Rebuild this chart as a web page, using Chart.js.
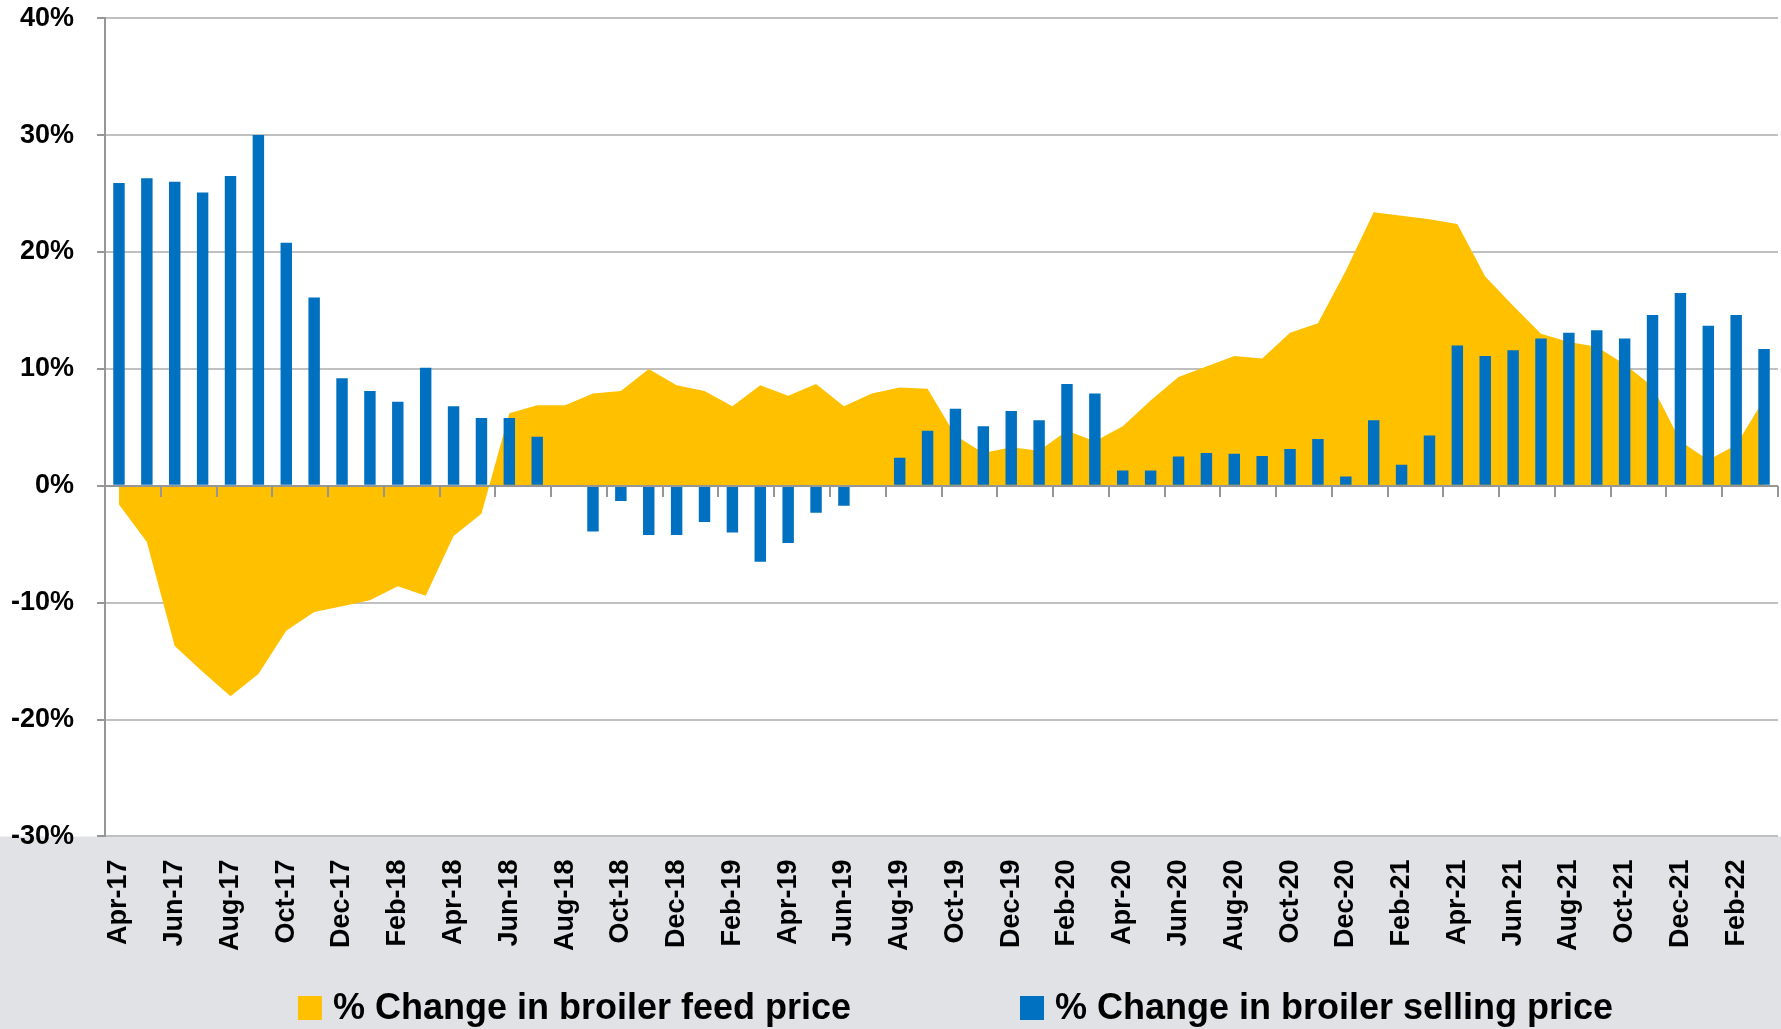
<!DOCTYPE html>
<html>
<head>
<meta charset="utf-8">
<script src="https://cdn.jsdelivr.net/npm/chart.js@4.4.1/dist/chart.umd.min.js"></script>
<style>
  body { margin: 0; background: #ffffff; }
  #wrap { width: 1781px; height: 1029px; }
</style>
</head>
<body>
<div id="wrap"><canvas id="chart"></canvas></div>
<script>
// Month labels, Apr-17 .. Mar-22
const months = [
    'Apr-17', 'May-17', 'Jun-17', 'Jul-17', 'Aug-17', 'Sep-17', 'Oct-17', 'Nov-17', 'Dec-17',
    'Jan-18', 'Feb-18', 'Mar-18', 'Apr-18', 'May-18', 'Jun-18', 'Jul-18', 'Aug-18', 'Sep-18',
    'Oct-18', 'Nov-18', 'Dec-18', 'Jan-19', 'Feb-19', 'Mar-19', 'Apr-19', 'May-19', 'Jun-19',
    'Jul-19', 'Aug-19', 'Sep-19', 'Oct-19', 'Nov-19', 'Dec-19', 'Jan-20', 'Feb-20', 'Mar-20',
    'Apr-20', 'May-20', 'Jun-20', 'Jul-20', 'Aug-20', 'Sep-20', 'Oct-20', 'Nov-20', 'Dec-20',
    'Jan-21', 'Feb-21', 'Mar-21', 'Apr-21', 'May-21', 'Jun-21', 'Jul-21', 'Aug-21', 'Sep-21',
    'Oct-21', 'Nov-21', 'Dec-21', 'Jan-22', 'Feb-22', 'Mar-22'
];

// % change in broiler feed price (area)
const feedChange = [
    -1.6, -4.8, -13.7, -15.9, -18.0, -16.1, -12.4, -10.8, -10.3,
    -9.8, -8.6, -9.4, -4.3, -2.4, 6.2, 6.9, 6.9, 7.9,
    8.1, 10.0, 8.6, 8.1, 6.8, 8.6, 7.7, 8.7, 6.8,
    7.9, 8.4, 8.3, 4.3, 2.8, 3.3, 3.0, 4.7, 3.8,
    5.1, 7.3, 9.3, 10.2, 11.1, 10.9, 13.1, 13.9, 18.4,
    23.4, 23.1, 22.8, 22.4, 17.9, 15.4, 13.0, 12.3, 11.9,
    10.4, 8.5, 3.8, 2.2, 3.5, 7.4
];

// % change in broiler selling price (bars)
const sellingChange = [
    25.9, 26.3, 26.0, 25.1, 26.5, 30.0, 20.8, 16.1, 9.2,
    8.1, 7.2, 10.1, 6.8, 5.8, 5.8, 4.2, 0, -3.9,
    -1.3, -4.2, -4.2, -3.1, -4.0, -6.5, -4.9, -2.3, -1.7,
    0.1, 2.4, 4.7, 6.6, 5.1, 6.4, 5.6, 8.7, 7.9,
    1.3, 1.3, 2.5, 2.8, 2.75, 2.55, 3.15, 4.0, 0.8,
    5.6, 1.8, 4.3, 12.0, 11.1, 11.6, 12.6, 13.1, 13.3,
    12.6, 14.6, 16.5, 13.7, 14.6, 11.7
];

const yTicks = [-30, -20, -10, 0, 10, 20, 30, 40];

const FONT = "'Liberation Sans', Arial, sans-serif";
const AXIS_GREY = '#969696';

// white plot, grey band under the axis
const background = {
    id: 'background',
    beforeDraw(chart) {
        const { ctx, chartArea, width, height } = chart;
        ctx.save();
        ctx.fillStyle = '#ffffff';
        ctx.fillRect(0, 0, width, height);
        ctx.fillStyle = '#e1e2e6';
        ctx.fillRect(0, chartArea.bottom, width, height - chartArea.bottom);
        ctx.restore();
    }
};

// horizontal axis line at 0% with a tick every two months, plus short y tick marks
const axisMarks = {
    id: 'axisMarks',
    afterDatasetsDraw(chart) {
        const { ctx, chartArea, scales } = chart;
        const y0 = Math.round(scales.y.getPixelForValue(0));
        ctx.save();
        ctx.strokeStyle = AXIS_GREY;
        ctx.lineWidth = 2;
        ctx.beginPath();
        ctx.moveTo(chartArea.left, y0);
        ctx.lineTo(chartArea.right, y0);
        for (let i = 0; i <= months.length; i += 2) {
            const px = Math.round(scales.x.getPixelForValue(i - 0.5));
            ctx.moveTo(px, y0);
            ctx.lineTo(px, y0 + 11);
        }
        yTicks.forEach(v => {
            const py = Math.round(scales.y.getPixelForValue(v));
            ctx.moveTo(chartArea.left - 8, py);
            ctx.lineTo(chartArea.left, py);
        });
        ctx.stroke();
        ctx.restore();
    }
};

// legend drawn by hand so the spacing can follow the original
const legendRow = {
    id: 'legendRow',
    afterDraw(chart) {
        const { ctx, chartArea } = chart;
        const box = 24, gap = 11, between = 169;
        ctx.save();
        ctx.font = 'bold 36px ' + FONT;
        ctx.textBaseline = 'middle';
        const items = chart.data.datasets.map(d => ({ text: d.label, color: d.backgroundColor, w: ctx.measureText(d.label).width }));
        const total = items.reduce((s, it) => s + box + gap + it.w, 0) + between * (items.length - 1);
        let x = (chartArea.left + chartArea.right) / 2 + 14 - total / 2;
        const cy = chart.height - 21;
        items.forEach(it => {
            ctx.fillStyle = it.color;
            ctx.fillRect(x, cy - box / 2, box, box);
            ctx.fillStyle = '#000000';
            ctx.fillText(it.text, x + box + gap, cy + 1);
            x += box + gap + it.w + between;
        });
        ctx.restore();
    }
};

const ctx = document.getElementById('chart').getContext('2d');
new Chart(ctx, {
    data: {
        labels: months,
        datasets: [{
            type: 'line',
            label: '% Change in broiler feed price',
            data: feedChange,
            backgroundColor: '#ffc000',
            borderWidth: 0,
            pointRadius: 0,
            fill: 'origin',
            tension: 0,
            order: 2
        }, {
            type: 'bar',
            label: '% Change in broiler selling price',
            data: sellingChange,
            backgroundColor: '#0070c0',
            barPercentage: 0.41,
            categoryPercentage: 1,
            order: 1
        }]
    },
    options: {
        responsive: true,
        maintainAspectRatio: false,
        animation: false,
        layout: { padding: { top: 1, right: 3, left: 9, bottom: 75 } },
        plugins: {
            tooltip: { enabled: false },
            legend: { display: false }
        },
        scales: {
            x: {
                offset: true,
                grid: { drawOnChartArea: false, drawTicks: true, tickLength: 20, tickColor: 'rgba(0,0,0,0)' },
                border: { display: false },
                ticks: {
                    autoSkip: false,
                    maxRotation: 90,
                    minRotation: 90,
                    padding: 3,
                    color: '#000000',
                    font: { family: FONT, size: 27, weight: 'bold' },
                    callback: (value, index) => index % 2 === 0 ? months[index] : null
                }
            },
            y: {
                min: yTicks[0],
                max: yTicks[yTicks.length - 1],
                afterBuildTicks: (axis) => { axis.ticks = yTicks.map(v => ({ value: v })); },
                grid: {
                    color: '#c0c0c0',
                    lineWidth: 2,
                    tickColor: 'rgba(0,0,0,0)',
                    tickLength: 29
                },
                border: { color: AXIS_GREY, width: 2 },
                ticks: {
                    padding: 2,
                    color: '#000000',
                    font: { family: FONT, size: 27, weight: 'bold' },
                    callback: (value) => value + '%'
                }
            }
        }
    },
    plugins: [background, axisMarks, legendRow]
});
</script>
</body>
</html>
